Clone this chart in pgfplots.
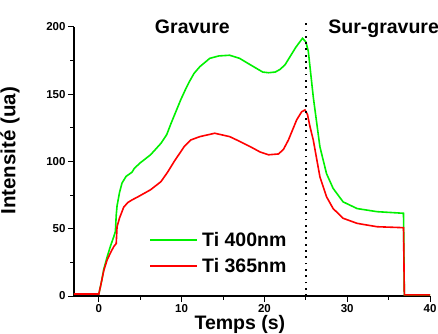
\documentclass[border=0pt]{standalone}
\usepackage{pgfplots}
\pgfplotsset{compat=1.18}
\usepackage{fontspec}
\setmainfont{Liberation Sans}
\setsansfont{Liberation Sans}
\definecolor{vert}{RGB}{0,240,0}
\definecolor{rouge}{RGB}{255,0,0}
\begin{document}
\begin{tikzpicture}
\useasboundingbox (-74bp,-38bp) rectangle (364bp,296bp);
\begin{axis}[
  at={(0,0)}, anchor=south west,
  scale only axis,
  width=356bp, height=269bp,
  xmin=-3, xmax=40, ymin=0, ymax=200,
  axis x line*=bottom, axis y line*=left,
  axis line style={line width=1.1bp, -},
  clip=false,
  xtick={0,10,20,30,40}, ytick={0,50,100,150,200},
  minor x tick num=1, minor y tick num=1,
  tick align=outside,
  major tick length=6bp, minor tick length=3.5bp,
  tick style={line width=1bp, black},
  /pgf/number format/assume math mode=true,
  ticklabel style={font=\fontsize{11.5bp}{13bp}\selectfont\bfseries},
  yticklabel style={xshift=1bp},
  xticklabel style={yshift=1bp},
  xlabel={Temps (s)},
  ylabel={Intensité (ua)},
  label style={font=\fontsize{19.5bp}{22bp}\selectfont\bfseries},
  xlabel style={at={(axis description cs:0.466,-0.126)}, anchor=base},
  ylabel style={at={(axis description cs:-0.165,0.54)}, anchor=base,
    font=\fontsize{20.5bp}{23bp}\selectfont\bfseries},
]
\addplot[color=vert, line width=1.6bp] coordinates {
(-3,1.5) (-1,1.5) (0,1.5) (0.3,10) (0.6,20) (1.0,29) (1.4,37) (1.8,44) (2.0,48)
(2.1,60) (2.2,67) (2.5,77) (2.8,84) (3.3,89) (4.0,92) (4.3,95) (5,99) (6.25,105)
(7.5,113.5) (8.2,120) (8.7,128) (9.3,137) (9.9,146) (10.5,154) (10.9,159)
(11.5,165.5) (12.2,170.5) (13.4,176.7) (14.5,178.5) (15.8,179) (17,176.7)
(18,173) (19.1,169) (19.8,166.5) (20.5,166) (21.3,166.5) (21.9,168.5) (22.5,172)
(23.1,178) (23.8,185) (24.6,191.6) (25.0,189) (25.3,182) (25.9,148) (26.7,111)
(27.5,91) (28.3,80) (29.5,70) (31.2,65) (33.6,62.7) (36.8,61.5) (36.9,0.8)
(37.5,0.8) (40,0.8)
};
\addplot[color=rouge, line width=1.6bp] coordinates {
(-3,1.5) (0,1.5) (0.3,10) (0.6,19) (1.0,26.8) (1.4,32) (1.8,36.7) (2.1,39)
(2.2,51.5) (2.5,58) (3.0,66) (3.5,69.5) (4.0,71.4) (4.8,74) (6.25,79) (7.5,85)
(8.3,92) (9.1,100) (10.3,111) (11.1,116) (12.2,118.5) (14,121) (15.8,118.5)
(17,115) (18.3,111) (19.5,107) (20.5,105) (21.7,105.6) (22.3,109) (22.9,116)
(23.9,131) (24.5,137) (24.9,138.3) (25.2,135) (25.5,126) (25.9,116) (26.7,88.7)
(27.5,73.8) (28.3,65) (29.5,57.8) (31.2,54) (33.6,51.5) (36.8,50.8) (36.9,0.8)
(40,0.8)
};
\draw[black, line width=1.8bp, dash pattern=on 1.8bp off 4.5bp]
  (axis cs:25,0) -- (axis cs:25,205);
\node[font=\fontsize{19.5bp}{22bp}\selectfont\bfseries, anchor=base]
  at (axis cs:11.3,195) {Gravure};
\node[font=\fontsize{19.5bp}{22bp}\selectfont\bfseries, anchor=base]
  at (axis cs:34.4,195) {Sur-gravure};
% legend
\draw[vert, line width=1.6bp] (axis description cs:0.2135,0.2082) -- (axis description cs:0.3455,0.2082);
\draw[rouge, line width=1.6bp] (axis description cs:0.2135,0.1115) -- (axis description cs:0.3455,0.1115);
\node[font=\fontsize{19.5bp}{22bp}\selectfont\bfseries, anchor=west, inner sep=0pt]
  at (axis description cs:0.3596,0.2082) {Ti 400nm};
\node[font=\fontsize{19.5bp}{22bp}\selectfont\bfseries, anchor=west, inner sep=0pt]
  at (axis description cs:0.3596,0.1115) {Ti 365nm};
\end{axis}
\end{tikzpicture}
\end{document}
